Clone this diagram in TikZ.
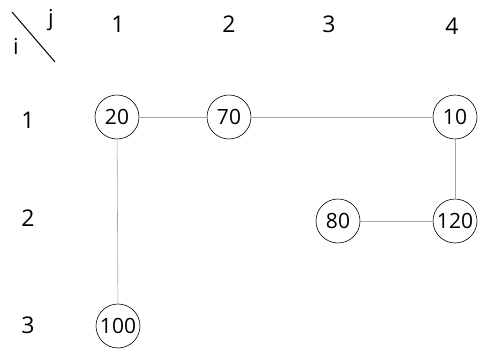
\documentclass[tikz,border=0pt]{standalone}
\usepackage{fontspec}
\setmainfont{Open Sans}
\begin{document}
\begin{tikzpicture}[x=1pt,y=-1pt,
  cell/.style={circle,draw=black,line width=0.6pt,minimum size=44pt,inner sep=0pt,font=\fontsize{21}{21}\selectfont},
  head/.style={font=\fontsize{23}{23}\selectfont},
  link/.style={draw=black!35,line width=0.6pt}]
\useasboundingbox (0,0) rectangle (479,352);
% corner header with diagonal
\coordinate (d1) at (12,12);
\coordinate (d2) at (55,62);
\draw[line width=1pt] (d1) -- (d2);
\node[font=\fontsize{22}{22}\selectfont] (ii) at (16,46) {i};
\node[font=\fontsize{22}{22}\selectfont] (jj) at (51,20) {j};
% column indices
\node[head] (c1) at (118,24) {1};
\node[head] (c2) at (229,24) {2};
\node[head] (c3) at (329,24) {3};
\node[head] (c4) at (452,26) {4};
% row indices
\node[head] (r1) at (28,120) {1};
\node[head] (r2) at (28,218) {2};
\node[head] (r3) at (28,325) {3};
% entries
\node[cell] (a11) at (117,117) {20};
\node[cell] (a12) at (229,117) {70};
\node[cell] (a14) at (455,117) {10};
\node[cell] (a23) at (338,221) {80};
\node[cell] (a24) at (455,221) {120};
\node[cell] (a31) at (118,326) {100};
% links
\draw[link] (a11) -- (a12);
\draw[link] (a12) -- (a14);
\draw[link] (a14) -- (a24);
\draw[link] (a23) -- (a24);
\draw[link] (a11) -- (a31);
\end{tikzpicture}
\end{document}
